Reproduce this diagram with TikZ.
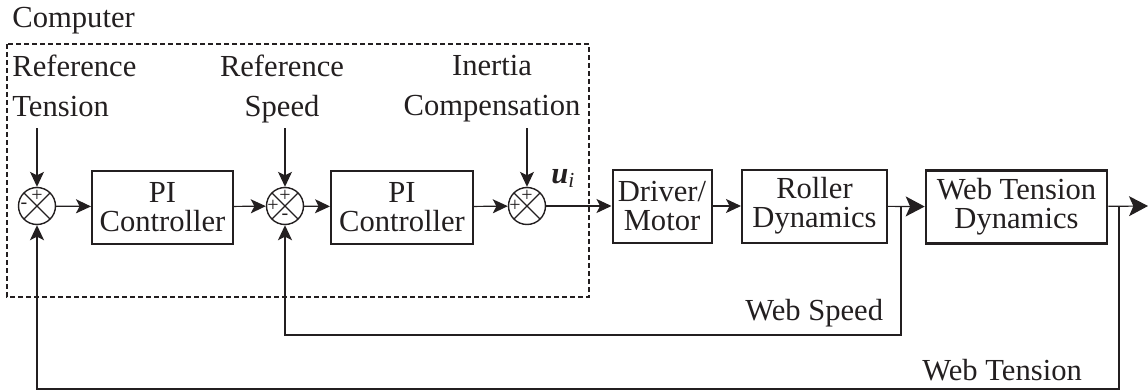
\documentclass[tikz,border=0pt]{standalone}
\usepackage{fontspec}
\setmainfont{Liberation Serif}
\usepackage{tikz}
\usetikzlibrary{arrows.meta,calc}
\definecolor{inkgray}{RGB}{35,31,32}
\tikzset{
  block/.style={rectangle, draw=inkgray, line width=1pt, inner sep=0pt, align=center,
                minimum height=36.5pt, text=inkgray, font=\fontsize{15.3}{14.5}\selectfont},
  blockwide/.style={block, line width=1.3pt},
  sumnode/.style={circle, draw=inkgray, line width=0.7pt, minimum size=18.5pt, inner sep=0pt,
                  path picture={\draw[inkgray, line width=0.6pt]
                    (path picture bounding box.north west) -- (path picture bounding box.south east)
                    (path picture bounding box.north east) -- (path picture bounding box.south west);}},
  sign/.style={font=\fontsize{10}{10}\selectfont, inner sep=0pt, text=inkgray},
  arrow/.style={-{Stealth[length=7.5pt, width=7pt, inset=1.8pt]}, line width=0.6pt, draw=inkgray},
  bigarrow/.style={-{Stealth[length=9.5pt, width=10pt, inset=2.2pt]}, line width=0.6pt, draw=inkgray},
  fbarrow/.style={-{Stealth[length=7.5pt, width=7pt, inset=1.8pt]}, line width=0.9pt, draw=inkgray},
  label/.style={font=\fontsize{15.3}{20}\selectfont, inner sep=0pt, text=inkgray},
  dashbox/.style={draw=inkgray, line width=0.8pt, dash pattern=on 2.5pt off 1.5pt},
}
\begin{document}
\begin{tikzpicture}[x=0.5pt, y=-0.5pt]
\useasboundingbox (0,0) rectangle (1148,391);
% computer part
\draw[dashbox] (7,44) rectangle (589,297);
\node[label, anchor=base west] (comp) at (12,27) {Computer};
\node[label, align=left, anchor=north west] (reft) at (12,55) {Reference\\Tension};
\node[label, align=center, anchor=north] (refs) at (282,55) {Reference\\Speed};
\node[label, align=center, anchor=north] (inc) at (492,55) {Inertia\\Compensation};
\coordinate (rt) at (37,128);
\coordinate (rs) at (285,128);
\coordinate (ic) at (527,128);
% forward path
\node[sumnode] (s1) at (37,206) {};
\node[block, minimum width=70.5pt] (pi1) at (162.5,207) {PI\\Controller};
\node[sumnode] (s2) at (285,206) {};
\node[block, minimum width=71pt] (pi2) at (402,207) {PI\\Controller};
\node[sumnode] (s3) at (527,206) {};
\node[block, minimum width=49.5pt] (drv) at (662,206) {Driver/\\Motor};
\node[block, minimum width=72.5pt] (rol) at (814.5,206) {Roller\\Dynamics};
\node[blockwide, minimum width=90.5pt] (wtd) at (1016.5,207) {Web Tension\\Dynamics};
\coordinate (bs) at (901,206);
\coordinate (bt) at (1119,206);
\coordinate (out) at (1148,206);
% signs
\node[sign] at ([yshift=5pt]s1.center) {+};
\node[sign] at ([xshift=-6.5pt]s1.center) {-};
\node[sign] at ([yshift=5pt]s2.center) {+};
\node[sign] at ([xshift=-6pt]s2.center) {+};
\node[sign] at ([yshift=-5.5pt]s2.center) {-};
\node[sign] at ([yshift=5pt]s3.center) {+};
\node[sign] at ([xshift=-6pt]s3.center) {+};
\node[label, anchor=base west] (ui) at (551,183) {\textbf{\textit{u}}\textsubscript{\textit{i}}};
% connectors
\foreach \a/\b in {rt/s1, rs/s2, ic/s3, s1/pi1, pi1/s2, s2/pi2, pi2/s3, s3/drv, drv/rol}
  \draw[arrow] (\a) -- (\b);
\draw[bigarrow] (rol) -- (wtd);
\draw[bigarrow] (wtd) -- (out);
\draw[fbarrow] (bs) -- (901,335) -| (s2);
\draw[fbarrow] (bt) -- (1119,389) -| (s1);
\node[label, anchor=base west] (wsp) at (745,320) {Web Speed};
\node[label, anchor=base west] (wte) at (922,380) {Web Tension};
\end{tikzpicture}
\end{document}
